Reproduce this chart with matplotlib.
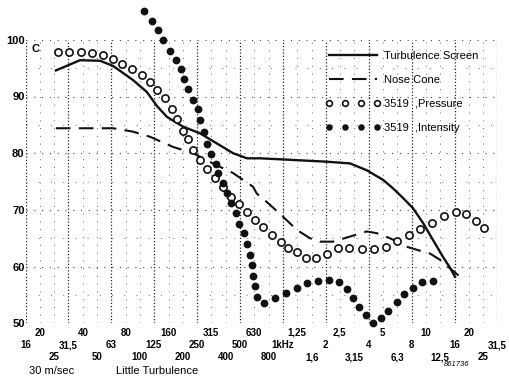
import matplotlib
matplotlib.use("Agg")
import matplotlib.pyplot as plt
import numpy as np

plt.rcParams['font.family'] = ['Liberation Sans', 'DejaVu Sans']

# ---------------- data (Hz, dB) ----------------
turb_f = [25.9, 38.2, 52.7, 65, 89.6, 112, 132, 155, 200, 264, 347, 449, 562, 693,
          1003, 2029, 2953, 3864, 5024, 5902, 6933, 8144, 9568, 11238, 13206, 14778, 16016]
turb_db = [94.6, 96.4, 96.3, 95.4, 92.9, 90.8, 88.3, 86.4, 84.7, 83.5, 81.7, 80.0, 79.1, 79.1,
           78.9, 78.5, 78.2, 77.0, 75.3, 73.8, 72.1, 70.3, 67.7, 64.7, 61.7, 59.8, 58.2]

nose_f = [25.9, 65, 89.6, 118, 171, 236, 325, 449, 619, 657, 814, 1003, 1251, 1551, 1821,
          2245, 2953, 3864, 4539, 5622, 7357, 9117, 10712, 12582, 14778, 17360]
nose_db = [84.4, 84.4, 83.8, 82.9, 81.1, 80.0, 78.2, 76.5, 74.1, 72.9, 70.9, 68.8, 66.5, 65.0, 64.4,
           64.4, 65.3, 66.2, 65.9, 65.0, 63.5, 62.8, 62.3, 61.2, 59.7, 58.2]

press_f = [26.9, 32.1, 38.8, 46.3, 55.0, 65.2, 75.4, 87.8, 103, 118, 131, 150, 167, 183, 200,
           218, 237, 264, 297, 336, 380, 432, 497, 560, 640, 731, 837, 968, 1093, 1251,
           1447, 1708, 2029, 2423, 2920, 3566, 4368, 5272, 6264, 7638, 9117, 11114, 13418,
           16205, 19122, 22368, 25682]
press_db = [97.8, 97.8, 97.8, 97.6, 97.3, 96.6, 95.7, 94.9, 93.8, 92.5, 91.1, 89.7, 87.8, 86.0, 84.0,
            82.5, 80.6, 78.8, 77.2, 75.7, 74.0, 72.3, 71.0, 69.6, 68.3, 66.9, 65.6, 64.4, 63.3, 62.5,
            61.6, 61.5, 62.2, 63.2, 63.3, 63.1, 63.1, 63.5, 64.6, 65.6, 66.6, 67.7, 68.9,
            69.7, 69.3, 68.1, 66.8]

inten_f = [107, 122, 133, 146, 163, 179, 193, 205, 218, 234, 254, 264, 281, 297, 315, 340, 354,
           380, 405, 436, 471, 497, 536, 565, 590, 606, 622, 640, 657, 739, 882, 1053, 1251,
           1470, 1755, 2115, 2485, 2800, 3115, 3430, 3822, 4256, 4864, 5472, 6264, 7048,
           8186, 9462, 11291]
inten_db = [105.0, 103.4, 101.7, 100.0, 98.1, 96.4, 94.8, 93.0, 91.4, 89.4, 87.8, 85.9, 83.8, 81.7,
            79.9, 78.1, 76.5, 74.7, 72.9, 71.2, 69.4, 67.6, 65.9, 64.0, 62.0, 60.3, 58.3, 56.5,
            54.7, 53.6, 54.5, 55.4, 56.2, 57.1, 57.5, 57.6, 57.2, 56.0, 54.4, 52.8, 51.5, 50.0,
            51.0, 52.2, 53.7, 55.1, 56.3, 57.3, 57.5]

# 1/3-octave label rows
row1_f = [20, 40, 80, 160, 315, 630, 1250, 2500, 5000, 10000, 20000]
row1_l = ['20', '40', '80', '160', '315', '630', '1,25', '2,5', '5', '10', '20']
row2_f = [16, 31.5, 63, 125, 250, 500, 1000, 2000, 4000, 8000, 16000, 31500]
row2_l = ['16', '31,5', '63', '125', '250', '500', '1kHz', '2', '4', '8', '16', '31,5']
row3_f = [25, 50, 100, 200, 400, 800, 1600, 3150, 6300, 12500, 25000]
row3_l = ['25', '50', '100', '200', '400', '800', '1,6', '3,15', '6,3', '12,5', '25']

yticks = [50, 60, 70, 80, 90, 100]
octave_f = [16, 31.5, 63, 125, 250, 500, 1000, 2000, 4000, 8000, 16000, 31500]
third_f = row1_f + row3_f

# ---------------- figure ----------------
W, H = 509, 379
fig = plt.figure(figsize=(W / 100, H / 100), dpi=100)
ax = fig.add_axes([26 / W, (H - 323.3) / H, (497 - 26) / W, (323.3 - 39.8) / H])
ax.set_xscale('log')
ax.set_xlim(16, 31500)
ax.set_ylim(50, 100)
for s in ax.spines.values():
    s.set_visible(False)

# grid
for f in octave_f:
    ax.plot([f, f], [50, 100], color='#222222', lw=0.9, ls=(0, (1, 1.6)), zorder=1)
for f in third_f:
    ax.plot([f, f], [50, 100], color='#666666', lw=0.7, ls=(0, (1, 7)), zorder=1)
for y in [55, 60, 65, 70, 75, 80, 85, 90, 95, 100]:
    ax.plot([16, 31500], [y, y], color='#444444' if y % 10 == 0 else '#888888',
            lw=0.8, ls=(0, (1, 6)) if y % 10 == 0 else (0, (1, 10)), zorder=1)

k = '#111111'
ax.plot(turb_f, turb_db, color=k, lw=1.7, zorder=3, label='Turbulence Screen')
ax.plot(nose_f, nose_db, color=k, lw=1.5, ls=(0, (7, 4)), zorder=3, label='Nose Cone')
ax.plot(press_f, press_db, ls='none', marker='o', ms=5.2, mfc='white', mec=k, mew=1.2,
        zorder=4, clip_on=False, label='3519  ,Pressure')
ax.plot(inten_f, inten_db, ls='none', marker='o', ms=4.6, mfc=k, mec=k,
        zorder=4, clip_on=False, label='3519  ,Intensity')

ax.set_xticks([])
ax.minorticks_off()
ax.set_xticks([], minor=True)
ax.set_yticks(yticks)
ax.set_yticklabels([str(v) for v in yticks], fontsize=8, fontweight='bold')
ax.tick_params(axis='y', length=0, pad=1)

ax.text(0.012, 0.985, 'C', transform=ax.transAxes, fontsize=8, fontweight='bold',
        va='top', ha='left')

# x label rows
tr = ax.get_xaxis_transform()
for fl, ll, py in [(row1_f, row1_l, 332.5), (row2_f, row2_l, 345), (row3_f, row3_l, 357.5)]:
    for f, l in zip(fl, ll):
        ax.text(f, 1 - (py - 39.8) / (323.3 - 39.8), l, transform=tr, ha='center', va='center',
                fontsize=7, fontweight='bold', clip_on=False)

fig.text(52 / W, 1 - 371 / H, '30 m/sec', ha='center', va='center', fontsize=8)
fig.text(157 / W, 1 - 371 / H, 'Little Turbulence', ha='center', va='center', fontsize=8)
fig.text(457 / W, 1 - 365 / H, '861736', ha='center', va='center', fontsize=5.5, style='italic')

leg = ax.legend(loc='upper left', bbox_to_anchor=(326 / W, 1 - 51 / H),
                bbox_transform=fig.transFigure, frameon=False, fontsize=8,
                handlelength=4.9, handletextpad=0.3, labelspacing=1.25,
                borderpad=0, borderaxespad=0, numpoints=4, markerscale=0.8)

fig.savefig('out.png', dpi=100)
